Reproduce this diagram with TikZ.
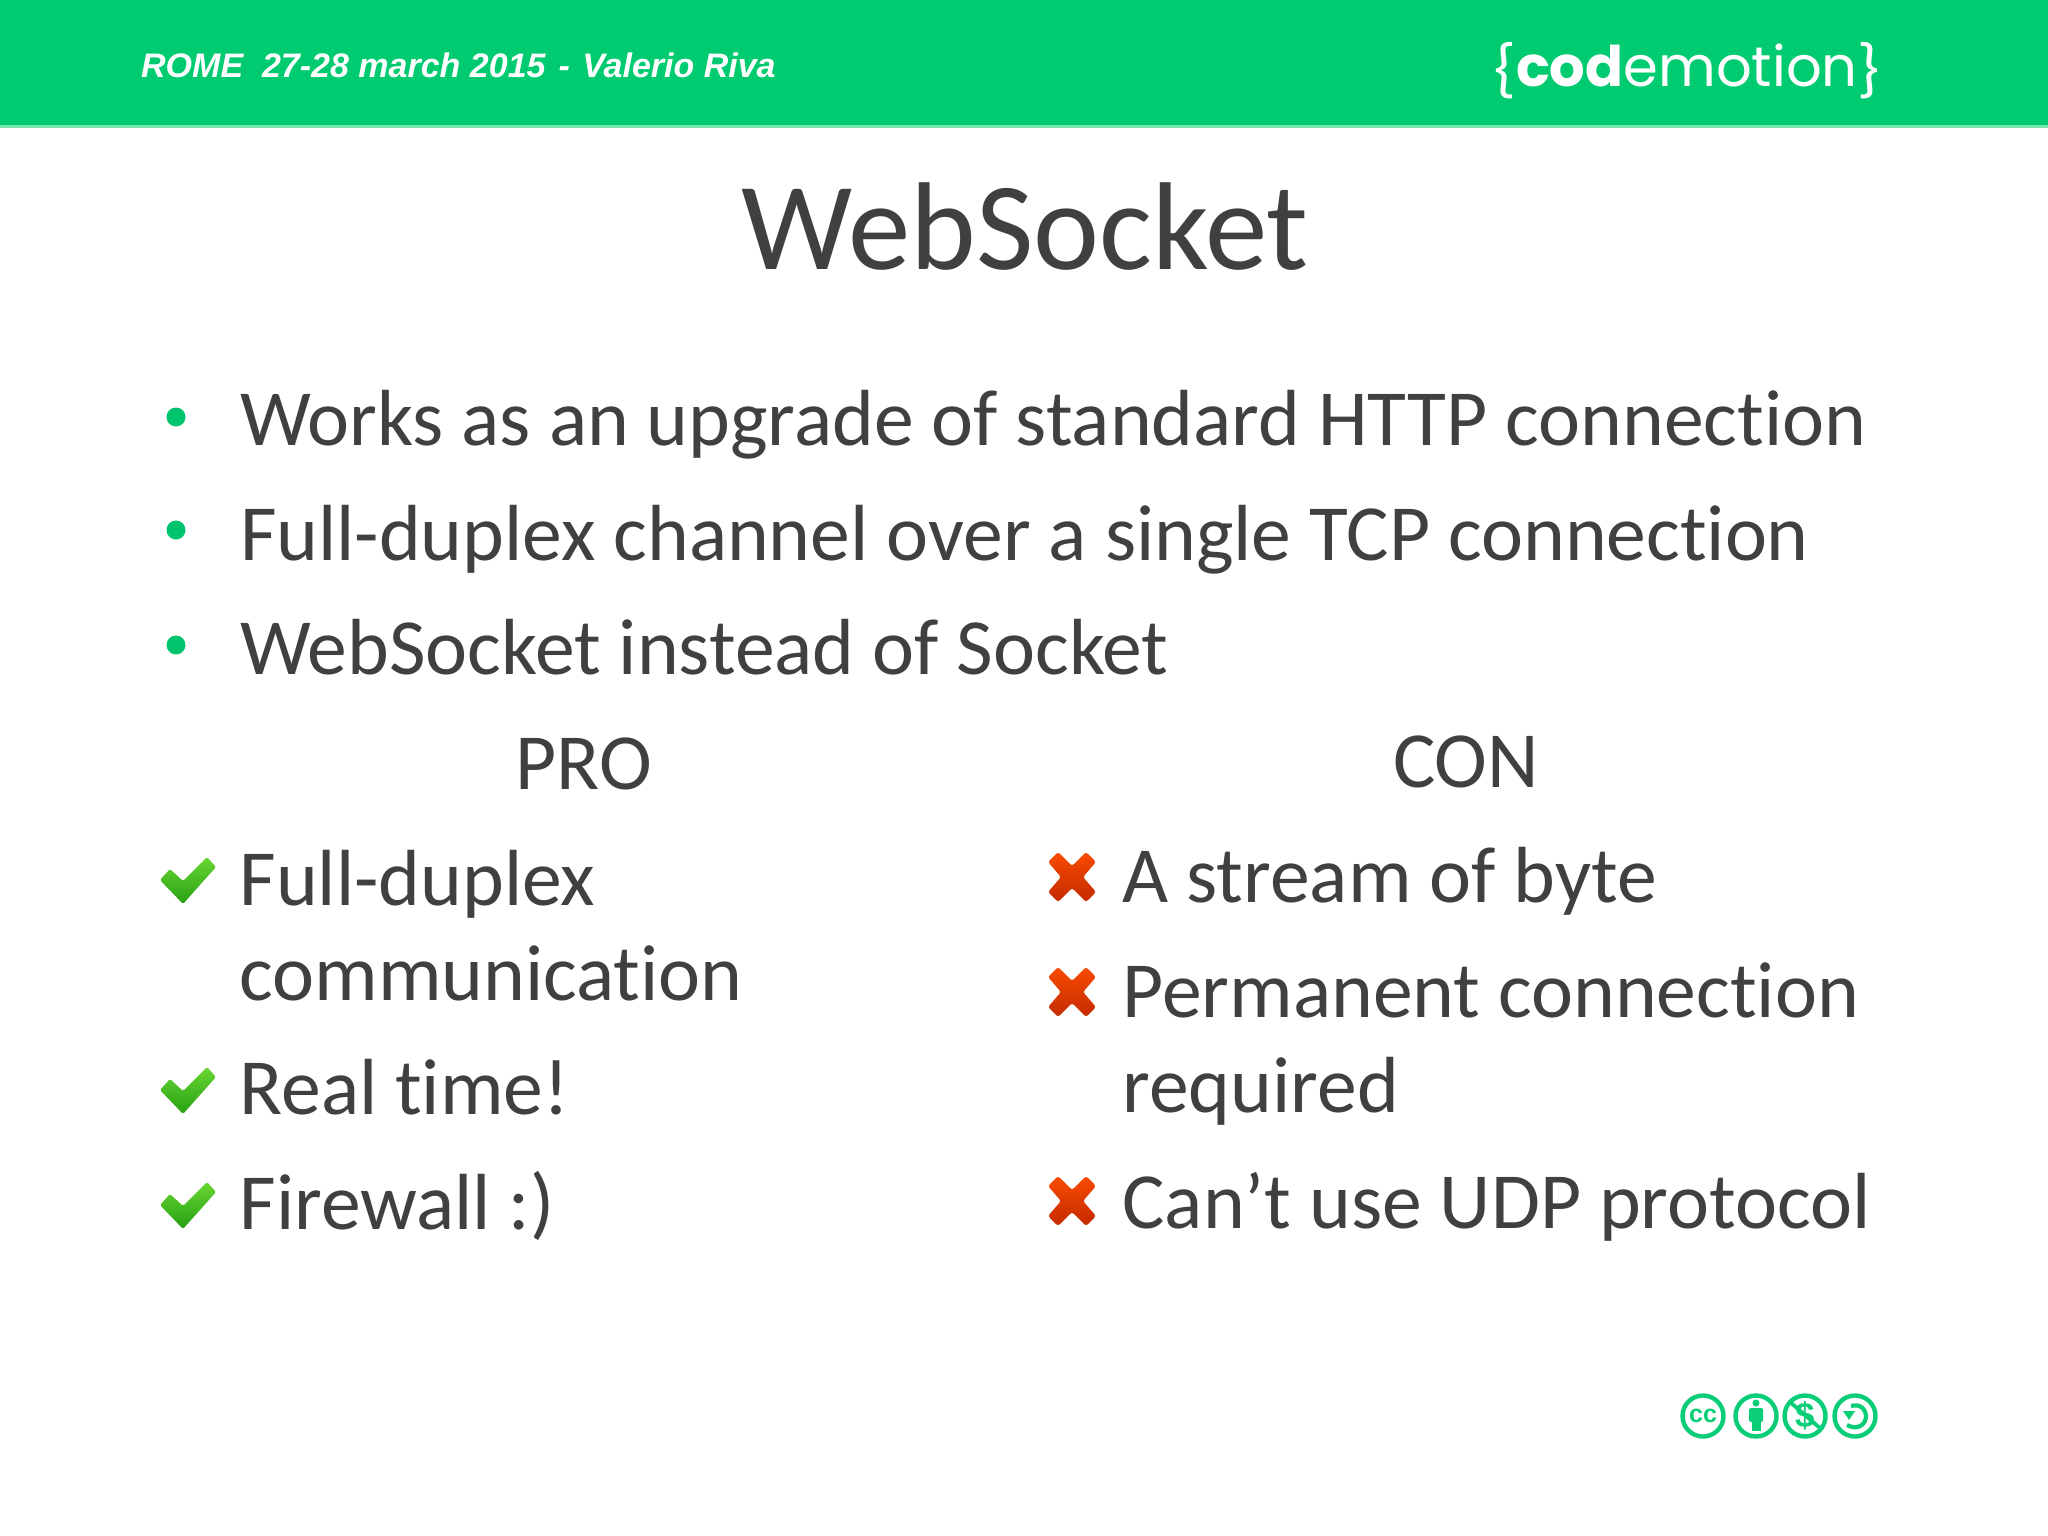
\documentclass[tikz,border=0pt]{standalone}
\usepackage{fontspec}
\setmainfont[Ligatures={NoCommon,TeX}]{Carlito}
\newfontfamily\headfont{Liberation Sans}
\newfontfamily\logofont{Poppins}
\definecolor{hdrgreen}{RGB}{0,203,112}
\definecolor{hdredge}{RGB}{120,228,175}
\definecolor{ink}{RGB}{64,64,64}
\definecolor{dotgreen}{RGB}{0,196,110}
\definecolor{ccgreen}{RGB}{10,205,120}
\definecolor{ticktop}{RGB}{105,214,50}
\definecolor{tickbot}{RGB}{38,160,20}
\definecolor{crosstop}{RGB}{250,75,0}
\definecolor{crossbot}{RGB}{195,42,0}
\tikzset{
  x=1pt,y=-1pt,
  body/.style={anchor=base west,inner sep=0pt,outer sep=0pt,text=ink,font=\fontsize{79.6}{79.6}\selectfont},
  head/.style={anchor=base,inner sep=0pt,outer sep=0pt,text=ink,font=\fontsize{79.6}{79.6}\selectfont},
  dot/.style={circle,fill=dotgreen,draw=none,minimum size=19pt,inner sep=0pt},
  cc/.style={circle,draw=ccgreen,line width=4.4pt,fill=white,minimum size=41pt,inner sep=0pt},
  ticksign/.pic={\shade[top color=ticktop,bottom color=tickbot,rounded corners=1.5pt]
     (-2,22) -- (8,11) -- (21,23) -- (45,-1) -- (54,9) -- (21,46) -- cycle;},
  crosssign/.pic={\shade[top color=crosstop,bottom color=crossbot,rounded corners=2.5pt]
     (-24,-15) -- (-14,-25) -- (0,-11) -- (14,-25) -- (24,-15) -- (11,0) -- (24,15) -- (14,25) -- (0,11) -- (-14,25) -- (-24,15) -- (-11,0) -- cycle;},
}
\begin{document}
\begin{tikzpicture}
\useasboundingbox (0,0) rectangle (2048,1536);
\fill[white] (0,0) rectangle (2048,1536);
\fill[hdredge] (0,125) rectangle (2048,128);
\fill[hdrgreen] (0,0) rectangle (2048,125.5);
\node[anchor=base west,inner sep=0pt,text=white,font=\headfont\bfseries\itshape\fontsize{34}{34}\selectfont] (hdr) at (141,78) {ROME\ \ 27-28 march 2015\hspace{3.5pt} -\hspace{3pt} Valerio Riva};
\node[anchor=base west,inner sep=0pt,text=white,font=\logofont\fontsize{56}{56}\selectfont] (logo) at (1490,87) {\raisebox{-3pt}{\scalebox{1}[.9]{\{}}{\bfseries cod}emotion\raisebox{-3pt}{\scalebox{1}[.9]{\}}}};
\node[head,font=\fontsize{125}{125}\selectfont] (title) at (1025,269) {WebSocket};
\node[dot] (d1) at (176,417) {};
\node[dot] (d2) at (176,530) {};
\node[dot] (d3) at (176,645) {};
\node[body] (b1) at (240,445.5) {Works as an upgrade of standard HTTP connection};
\node[body] (b2) at (240,560) {Full-duplex channel over a single TCP connection};
\node[body] (b3) at (240,674.5) {WebSocket instead of Socket};
\node[head] (pro) at (583.5,789) {PRO};
\node[head] (con) at (1466,787.5) {CON};
\node[body] (p1) at (239.5,905) {Full-duplex};
\node[body] (p2) at (239.5,1000) {communication};
\node[body] (p3) at (239.5,1114.5) {Real time!};
\node[body] (p4) at (239.5,1229) {Firewall :)};
\node[body] (c1) at (1122.5,902.5) {A stream of byte};
\node[body] (c2) at (1122.5,1017.5) {Permanent connection};
\node[body] (c3) at (1122.5,1112.5) {required};
\node[body] (c4) at (1122.5,1228) {Can’t use UDP protocol};
\pic at (162,858) {ticksign};
\pic at (162,1068) {ticksign};
\pic at (162,1183) {ticksign};
\pic at (1072,877) {crosssign};
\pic at (1072,992) {crosssign};
\pic at (1072,1201) {crosssign};
\node[cc,text=ccgreen,font=\headfont\bfseries\fontsize{25}{25}\selectfont] (cc1) at (1703,1416) {cc};
\node[cc] (cc2) at (1756,1416) {};
\node[cc,text=ccgreen,font=\headfont\bfseries\fontsize{35}{35}\selectfont] (cc3) at (1805,1416) {\$};
\node[cc] (cc4) at (1855,1416) {};
\fill[ccgreen] (1756,1403) circle (3.5);
\fill[ccgreen,rounded corners=1.5pt] (1749,1408) rectangle (1763,1422);
\fill[ccgreen] (1751.5,1420) rectangle (1760.5,1431);
\draw[ccgreen,line width=3.8pt] (1790,1402) -- (1821,1429);
\draw[ccgreen,line width=4.2pt] (1851,1406) .. controls (1862,1403) and (1866,1411) .. (1866,1416) .. controls (1866,1424) and (1858,1431) .. (1847,1425);
\fill[ccgreen] (1843,1411) -- (1855,1411) -- (1849,1420) -- cycle;
\end{tikzpicture}
\end{document}
